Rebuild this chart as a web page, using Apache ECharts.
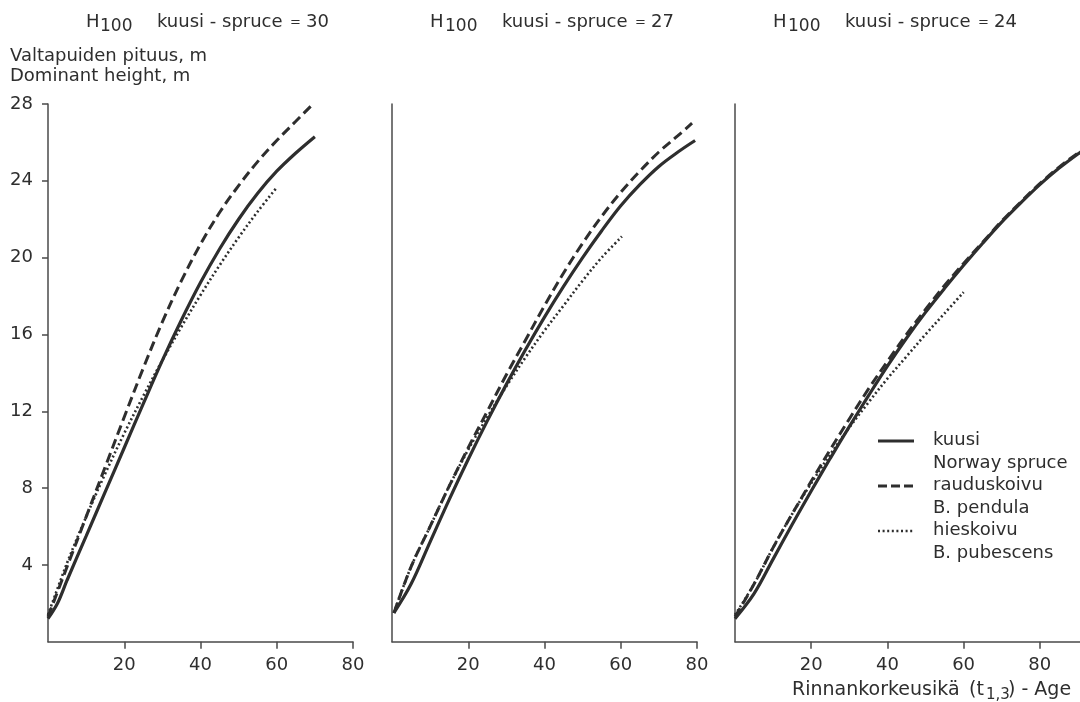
<!DOCTYPE html>
<html>
<head>
<meta charset="utf-8">
<script src="https://cdn.jsdelivr.net/npm/echarts@6/dist/echarts.min.js"></script>
<style>html,body{margin:0;padding:0;background:#fff}#c{width:1080px;height:702px}</style>
</head>
<body>
<div id="c"></div>
<script>
// ---- data: [age (t1.3), dominant height m] ----
const siteIndex = [30, 27, 24];
const ageTicks = [20, 40, 60, 80];
const heightTicks = [4, 8, 12, 16, 20, 24, 28];

const kuusi30 = [[0,1.2],[2.5,2.0],[5,3.2],[10,5.5],[15,7.8],[20,10.1],[25,12.4],[30,14.65],[35,16.75],[40,18.7],[45,20.45],[50,22.0],[55,23.35],[60,24.5],[65,25.45],[70,26.3]];
const rauduskoivu30 = [[0,1.3],[5,3.9],[10,6.5],[15,9.1],[20,11.7],[25,14.25],[30,16.65],[35,18.8],[40,20.7],[45,22.35],[50,23.75],[55,25.0],[60,26.1],[65,27.1],[69,27.9]];
const hieskoivu30 = [[0,1.4],[5,4.1],[10,6.5],[15,8.75],[20,10.85],[25,12.8],[30,14.65],[35,16.4],[40,18.05],[45,19.6],[50,21.05],[55,22.4],[60,23.65]];

const kuusi27 = [[0.5,1.5],[5,3.0],[10,5.2],[15,7.4],[20,9.5],[25,11.5],[30,13.4],[35,15.2],[40,16.9],[45,18.5],[50,20.0],[55,21.4],[60,22.7],[65,23.8],[70,24.75],[75,25.5],[79.5,26.1]];
const rauduskoivu27 = [[0.5,1.5],[5,3.9],[10,6.0],[15,8.1],[20,10.1],[25,12.0],[30,13.9],[35,15.7],[40,17.5],[45,19.2],[50,20.75],[55,22.15],[60,23.4],[65,24.5],[70,25.5],[75,26.35],[78.7,27.0]];
const hieskoivu27 = [[0.5,1.5],[5,3.9],[10,6.0],[15,8.1],[20,10.0],[25,11.7],[30,13.3],[35,14.8],[40,16.2],[45,17.5],[50,18.8],[55,20.0],[60.3,21.1]];

const kuusi24 = [[0,1.2],[5,2.5],[10,4.3],[15,6.1],[20,7.85],[25,9.55],[30,11.2],[35,12.8],[40,14.35],[45,15.8],[50,17.15],[55,18.4],[60,19.6],[65,20.75],[70,21.85],[75,22.85],[80,23.8],[85,24.65],[90,25.4],[93,25.8]];
const rauduskoivu24 = [[0,1.3],[5,3.0],[10,4.9],[15,6.65],[20,8.35],[25,10.0],[30,11.6],[35,13.15],[40,14.6],[45,16.0],[50,17.3],[55,18.55],[60,19.7],[65,20.8],[70,21.9],[75,22.9],[80,23.85],[85,24.7],[90,25.45],[93,25.85]];
const hieskoivu24 = [[0,1.4],[5,3.0],[10,4.9],[15,6.65],[20,8.25],[25,9.75],[30,11.15],[35,12.45],[40,13.7],[45,14.85],[50,16.0],[55,17.1],[60,18.2]];

const speciesNames = ['kuusi', 'rauduskoivu', 'hieskoivu'];
const speciesSub = ['Norway spruce', 'B. pendula', 'B. pubescens'];
const panelData = [
  [kuusi30, rauduskoivu30, hieskoivu30],
  [kuusi27, rauduskoivu27, hieskoivu27],
  [kuusi24, rauduskoivu24, hieskoivu24]
];

// ---- styling ----
const FONT = 'DejaVu Sans';
const INK = '#2e2e2e';
const AXIS = '#4a4a4a';
const lineTypes = ['solid', [10, 5], [2, 2.6]];
const lineWidths = [3.2, 3, 2.6];

const grids = [
  {left: 48, top: 104, width: 305, height: 537.7, outerBoundsMode: 'none', containLabel: false},
  {left: 392, top: 104, width: 305, height: 537.7, outerBoundsMode: 'none', containLabel: false},
  {left: 735, top: 104, width: 381, height: 537.7, outerBoundsMode: 'none', containLabel: false}
];

const xAxes = grids.map((g, i) => ({
  type: 'value', gridIndex: i, min: 0, max: i === 2 ? 100 : 80, interval: 20,
  axisLine: {show: true, lineStyle: {color: AXIS, width: 1.5}},
  axisTick: {show: true, length: 7, lineStyle: {color: AXIS, width: 1.5}, customValues: ageTicks},
  axisLabel: {show: true, margin: 15, fontFamily: FONT, fontSize: 18, color: INK, customValues: ageTicks},
  splitLine: {show: false}
}));

const yAxes = grids.map((g, i) => ({
  type: 'value', gridIndex: i, min: 0, max: 28, interval: 4,
  axisLine: {show: true, onZero: false, lineStyle: {color: AXIS, width: 1.5}},
  axisTick: {show: i === 0, length: 6, lineStyle: {color: AXIS, width: 1.5}, customValues: heightTicks},
  axisLabel: {show: i === 0, margin: 15, fontFamily: FONT, fontSize: 18, color: INK, customValues: heightTicks},
  splitLine: {show: false}
}));

const series = [];
panelData.forEach((panel, p) => {
  panel.forEach((d, s) => {
    series.push({
      name: speciesNames[s], type: 'line', xAxisIndex: p, yAxisIndex: p,
      data: d, smooth: 0.35, showSymbol: false, symbol: 'none', silent: true,
      lineStyle: {color: INK, width: lineWidths[s], type: lineTypes[s], cap: 'butt'}
    });
  });
});

function txt(text, x, y, size, extra) {
  return Object.assign({type: 'text', silent: true, style: {text: text, x: x, y: y, fill: INK, fontFamily: FONT, fontSize: size, verticalAlign: 'middle', align: 'left'}}, extra || {});
}

const graphics = [];
// panel titles
const titleX = [[86, 100, 157, 290, 306], [430, 445, 502, 635, 651], [773, 788, 845, 978, 994]];
siteIndex.forEach((v, i) => {
  const t = titleX[i];
  graphics.push(txt('H', t[0], 22, 18));
  graphics.push(txt('100', t[1], 27, 17));
  graphics.push(txt('kuusi - spruce', t[2], 22, 18));
  graphics.push(txt('=', t[3], 23, 13));
  graphics.push(txt(String(v), t[4], 22, 18));
});
// y axis title
graphics.push(txt('Valtapuiden pituus, m', 10, 56, 18));
graphics.push(txt('Dominant height, m', 10, 76, 18));
// x axis title
graphics.push(txt('Rinnankorkeusikä', 792, 690, 19));
graphics.push(txt('(t', 969, 690, 19));
graphics.push(txt('1,3', 986, 695, 15));
graphics.push(txt(') - Age', 1008, 690, 19));
// legend
const legY = [441, 486, 531];
speciesNames.forEach((n, s) => {
  graphics.push({type: 'line', silent: true, shape: {x1: 878, y1: legY[s], x2: 914, y2: legY[s]},
    style: {stroke: INK, lineWidth: s === 2 ? 2.6 : 3, lineDash: s === 0 ? null : (s === 1 ? [9, 4] : [2, 2.6])}});
  graphics.push(txt(n, 933, legY[s] - 1, 18));
  graphics.push(txt(speciesSub[s], 933, legY[s] + 22, 18));
});

const chart = echarts.init(document.getElementById('c'), null, {renderer: 'canvas'});
chart.setOption({
  animation: false,
  backgroundColor: '#fff',
  grid: grids,
  xAxis: xAxes,
  yAxis: yAxes,
  series: series,
  graphic: graphics
});
</script>
</body>
</html>
